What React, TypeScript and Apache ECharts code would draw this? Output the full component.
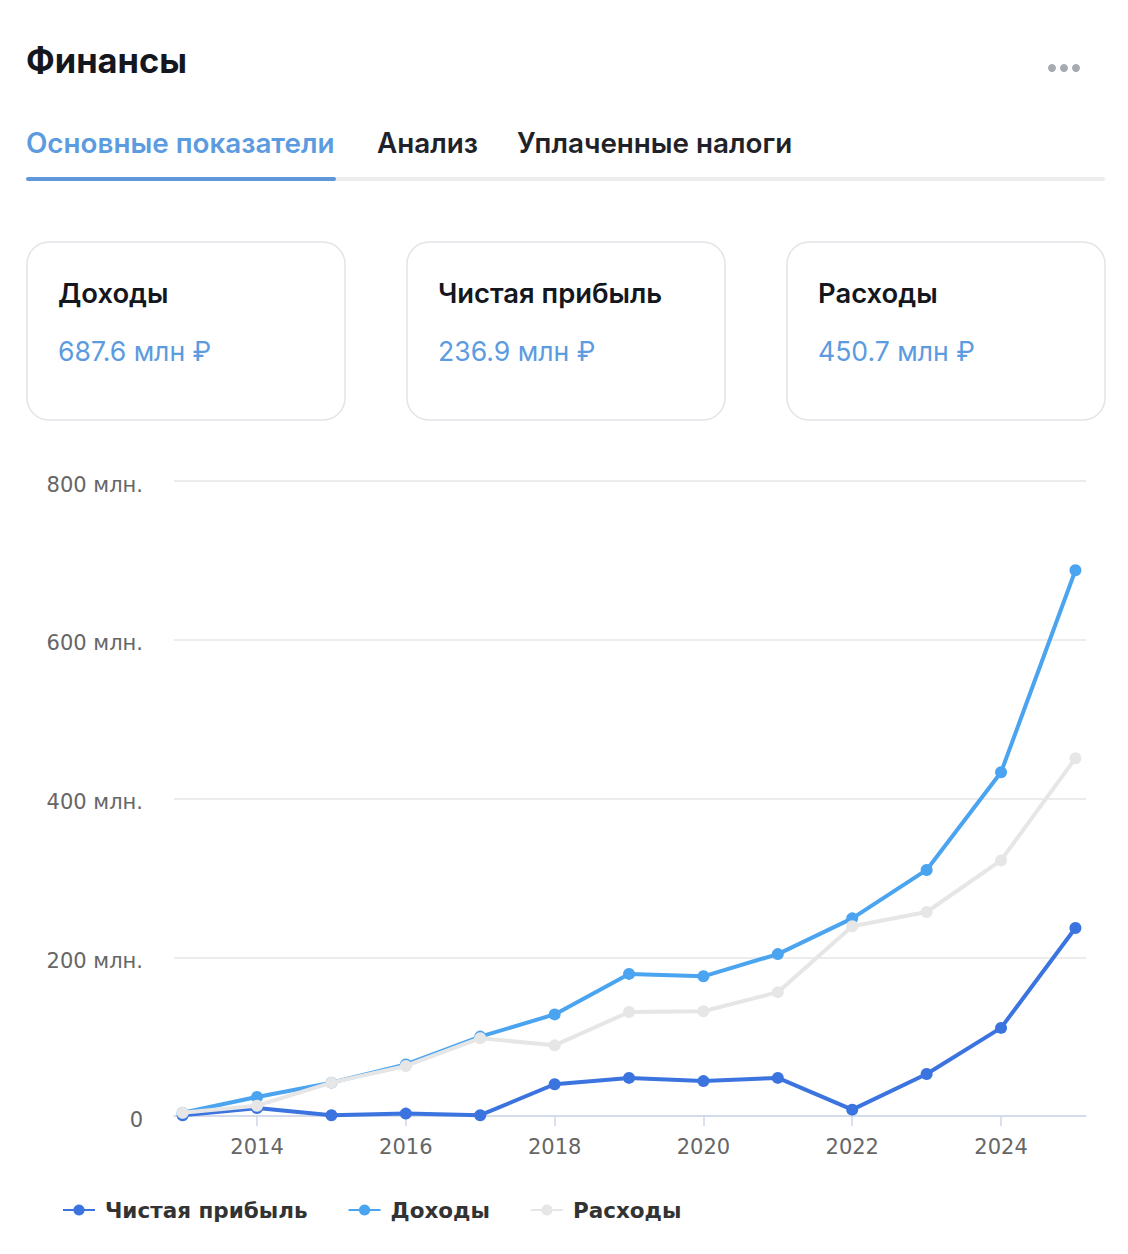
import React, { useEffect, useRef } from "react";
import * as echarts from "echarts";

const years = [2013, 2014, 2015, 2016, 2017, 2018, 2019, 2020, 2021, 2022, 2023, 2024, 2025];
const netProfit = [1, 10, 1, 3, 1, 40, 48, 44, 48, 8, 53, 111, 236.9];
const income = [4, 24, 42, 65, 100, 128, 179, 176, 204, 249, 310, 433, 687.6];
const expenses = [4, 13, 42, 63, 98, 89, 131, 132, 156, 239, 257, 322, 450.7];
const xLabelYears = [2014, 2016, 2018, 2020, 2022, 2024];
const seriesNames = ["Чистая прибыль", "Доходы", "Расходы"];
const seriesColors = ["#3b74df", "#4ba4ef", "#e6e6e6"];
const titleText = "Финансы";
const tabLabels = ["Основные показатели", "Анализ", "Уплаченные налоги"];
const cardLabels = ["Доходы", "Чистая прибыль", "Расходы"];
const cardValues = ["687.6 млн ₽", "236.9 млн ₽", "450.7 млн ₽"];

const W = 1128;
const H = 1254;

export default function App() {
  const ref = useRef<HTMLDivElement>(null);
  useEffect(() => {
    document.body.style.margin = "0";
    const chart = echarts.init(ref.current!, null, { renderer: "svg", width: W, height: H });
    const font = "Inter, 'Noto Sans', sans-serif";
    const chartFont = "'DejaVu Sans', Verdana, sans-serif";
    const tabX = [26, 377, 517];
    const cardX = [27, 407, 787];
    const graphic: any[] = [
      { type: "rect", shape: { x: 0, y: 0, width: W, height: H }, style: { fill: "#ffffff" }, z: -10, silent: true },
      {
        type: "text", x: 26, y: 60,
        style: { text: titleText, font: `700 34.4px ${font}`, fill: "#14171d", verticalAlign: "middle" },
      },
      ...[1052, 1064, 1076].map((cx) => ({
        type: "circle", shape: { cx, cy: 68, r: 4 }, style: { fill: "#a6aab1" },
      })),
      ...tabLabels.map((t, i) => ({
        type: "text", x: tabX[i], y: 143,
        style: { text: t, font: `600 27.8px ${font}`, fill: i === 0 ? "#5c9be0" : "#1f2329", verticalAlign: "middle" },
      })),
      { type: "rect", shape: { x: 26, y: 177, width: 1079, height: 4, r: 2 }, style: { fill: "#ededed" } },
      { type: "rect", shape: { x: 26, y: 177, width: 310, height: 4, r: 2 }, style: { fill: "#5f97db" } },
    ];
    cardLabels.forEach((lab, i) => {
      graphic.push({
        type: "rect", shape: { x: cardX[i], y: 242, width: 318, height: 178, r: 22 },
        style: { fill: "#ffffff", stroke: "#e2e4e8", lineWidth: 1.5 },
      });
      graphic.push({
        type: "text", x: cardX[i] + 31, y: 293,
        style: { text: lab, font: `600 27.4px ${font}`, fill: "#14171d", verticalAlign: "middle" },
      });
      graphic.push({
        type: "text", x: cardX[i] + 31, y: 351,
        style: { text: cardValues[i], font: `400 26.6px ${font}`, fill: "#5c9be0", verticalAlign: "middle" },
      });
    });

    const seriesData = [netProfit, income, expenses];
    chart.setOption({
      animation: false,
      backgroundColor: "#ffffff",
      graphic,
      grid: { left: 174, right: 42, top: 481, bottom: 138, containLabel: false },
      legend: {
        left: 62, top: 1199, padding: 0,
        itemWidth: 32, itemHeight: 14, itemGap: 40,
        textStyle: { fontFamily: chartFont, fontSize: 21.5, fontWeight: "bold", color: "#333333", padding: [0, 0, 0, 5] },
        data: seriesNames,
      },
      xAxis: {
        type: "value",
        min: 2012.884,
        max: 2025.142,
        splitLine: { show: false },
        axisLine: { show: true, lineStyle: { color: "#ccd6eb", width: 1.5 } },
        axisTick: { show: true, length: 10, lineStyle: { color: "#ccd6eb", width: 1.5 }, customValues: xLabelYears },
        axisLabel: {
          customValues: xLabelYears,
          margin: 20,
          color: "#666666",
          fontFamily: chartFont,
          fontSize: 21,
          formatter: (v: number) => String(Math.round(v)),
        },
      },
      yAxis: {
        type: "value",
        min: 0,
        max: 800,
        interval: 200,
        axisLine: { show: false },
        axisTick: { show: false },
        splitLine: { lineStyle: { color: "#e6e6e6", width: 1.5 } },
        axisLabel: {
          margin: 31,
          color: "#666666",
          fontFamily: chartFont,
          fontSize: 21,
          formatter: (v: number) => `{a|${v === 0 ? "0" : `${v} млн.`}}`,
          rich: {
            a: { color: "#666666", fontFamily: chartFont, fontSize: 21, padding: [7, 0, 0, 0] },
          },
        },
      },
      series: seriesNames.map((name, i) => ({
        name,
        type: "line",
        data: years.map((y, j) => [y, seriesData[i][j]]),
        color: seriesColors[i],
        symbol: "circle",
        symbolSize: 12,
        lineStyle: { width: 4, color: seriesColors[i] },
        itemStyle: { color: seriesColors[i] },
        z: 2 + i,
      })),
    });
    return () => chart.dispose();
  }, []);
  return <div ref={ref} style={{ position: "absolute", left: 0, top: 0, width: W, height: H }} />;
}
